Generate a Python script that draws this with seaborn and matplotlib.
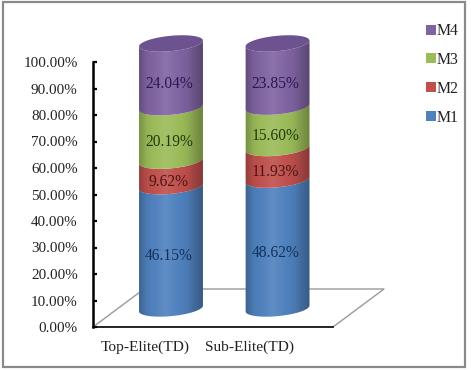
# Stacked percentage cylinders, M1..M4 for two groups
import numpy as np
import matplotlib
matplotlib.use("Agg")
import matplotlib.pyplot as plt
from matplotlib.patches import Patch, Polygon, Rectangle
import seaborn as sns

categories = ['Top-Elite(TD)', 'Sub-Elite(TD)']
series_names = ['M1', 'M2', 'M3', 'M4']
m1 = [46.15, 48.62]
m2 = [9.62, 11.93]
m3 = [20.19, 15.60]
m4 = [24.04, 23.85]
y_ticks = [0, 10, 20, 30, 40, 50, 60, 70, 80, 90, 100]

colors = ['#4F81BD', '#C0504D', '#9BBB59', '#8064A2']
label_colors = ['#12305A', '#4A1512', '#1F3A0C', '#2A1650']

# cylinder look, in data units
lift = 7.0        # bars stand on the floor, above the axis line
minor = 2.9
tilt = 1.1
label_drop = 3.2

sns.set_theme(style='white')
plt.rcParams['font.family'] = ['Liberation Serif', 'DejaVu Serif']

fig = plt.figure(figsize=(4.71, 3.70), dpi=100)
ax = fig.add_axes([93 / 471, 43 / 370, 240 / 471, 265 / 370])


def arc(cx, cy, half, front=True):
    t = np.linspace(np.pi, 2 * np.pi, 40) if front else np.linspace(0, np.pi, 40)
    return cx + half * np.cos(t), cy + minor * np.sin(t) + tilt * np.cos(t)


def shade(artist, x0, x1, y0, y1):
    # dark edges, bright band left of the middle
    pos = np.linspace(0, 1, 64)
    strength = np.interp(pos, [0, 0.12, 0.42, 0.75, 1], [-0.22, -0.05, 0.10, -0.05, -0.30])
    rgba = np.zeros((1, 64, 4))
    rgba[0, :, :3] = (strength > 0)[:, None]
    rgba[0, :, 3] = np.abs(strength)
    im = ax.imshow(rgba, extent=[x0, x1, y0, y1], aspect='auto', zorder=3,
                   interpolation='bilinear')
    im.set_clip_box(fig.bbox)
    im.set_clip_path(artist)


bottoms = np.zeros(len(categories))
for name, vals, col, lab_col in zip(series_names, [m1, m2, m3, m4], colors, label_colors):
    before = len(ax.patches)
    sns.barplot(x=categories, y=vals, bottom=bottoms + lift, color=col, saturation=1,
                width=0.6, errorbar=None, ax=ax)
    for i, bar in enumerate(list(ax.patches[before:])):
        x0 = bar.get_x()
        half = bar.get_width() / 2
        cx = x0 + half
        y0 = bar.get_y()
        y1 = y0 + bar.get_height()
        bar.set_visible(False)
        lx, ly = arc(cx, y0, half)
        ux, uy = arc(cx, y1, half)
        body = Polygon(np.column_stack([np.r_[lx, ux[::-1]], np.r_[ly, uy[::-1]]]),
                       facecolor=col, edgecolor='none', zorder=2 + 0.01 * before,
                       clip_on=False)
        ax.add_patch(body)
        shade(body, x0, x0 + 2 * half, y0 - 5, y1 + 5)
        ax.text(cx - 0.02, (y0 + y1) / 2 - label_drop, f'{vals[i]:.2f}%', ha='center',
                va='center', fontsize=11.2, color=lab_col, zorder=5)
        if name == 'M4':
            tx, ty = arc(cx, y1, half)
            bx, by = arc(cx, y1, half, front=False)
            cap = Polygon(np.column_stack([np.r_[tx, bx], np.r_[ty, by]]),
                          facecolor='#6C528F', edgecolor='none', zorder=4, clip_on=False)
            ax.add_patch(cap)
    bottoms = bottoms + np.array(vals)

ax.set_xlim(-78 / 106.5, 162 / 106.5)
ax.set_ylim(0, 100)
ax.set_xlabel('')
ax.set_ylabel('')
ax.set_yticks(y_ticks)
ax.set_yticklabels([f'{v:.2f}%' for v in y_ticks], fontsize=10.9, color='#222222')
ax.set_xticks([-26 / 106.5, 79 / 106.5])
ax.set_xticklabels(categories, fontsize=11.1, color='#222222')
ax.tick_params(axis='y', direction='in', length=3, width=1.6, color='black', pad=11, left=True)
ax.tick_params(axis='x', length=0, pad=10)

sns.despine(ax=ax, top=True, right=True)
ax.spines['left'].set_linewidth(1.8)
ax.spines['left'].set_color('black')
ax.spines['bottom'].set_linewidth(1.2)
ax.spines['bottom'].set_color('black')
ax.patch.set_alpha(0)

# floor of the 3D chart, in axes fractions
ax.plot([0, 51 / 240, 291 / 240, 1], [0, 38 / 265, 38 / 265, 0], color='#9A9A9A', lw=1.0,
        transform=ax.transAxes, clip_on=False, zorder=1)

handles = [Patch(facecolor=c, edgecolor='none') for c in colors[::-1]]
fig.legend(handles, series_names[::-1], loc='upper left', bbox_to_anchor=(423 / 471, 1 - 20 / 370),
           frameon=False, fontsize=11.3, labelspacing=0.82, handlelength=0.6, handleheight=0.6,
           handletextpad=0.08, borderpad=0.2, borderaxespad=0, labelcolor='#222222')

# grey frame around the picture
fig.add_artist(Rectangle((2.5 / 471, 3 / 370), 462.5 / 471, 365 / 370, transform=fig.transFigure,
                         fill=False, edgecolor='#8A8A8A', lw=1.6))

fig.savefig('out.png', dpi=100)
